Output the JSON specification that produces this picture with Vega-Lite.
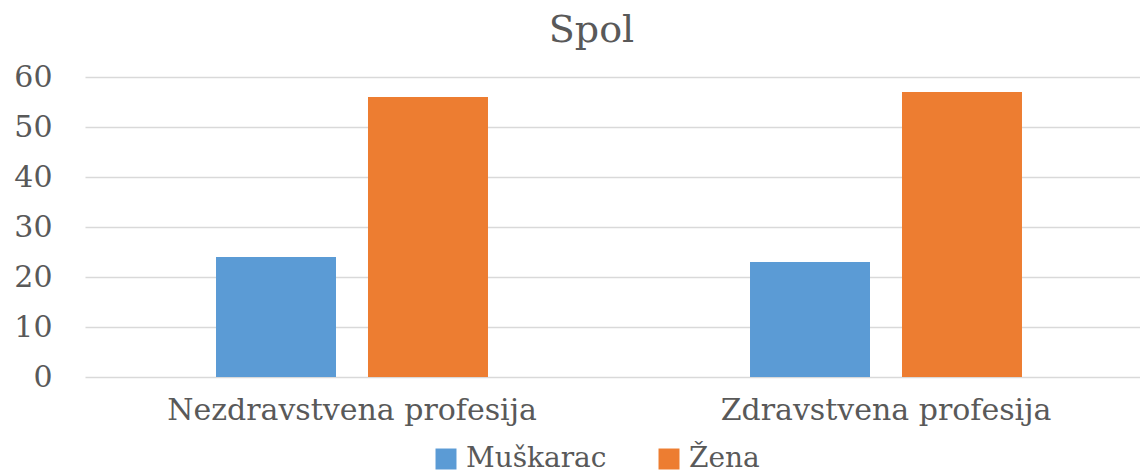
{
  "$schema": "https://vega.github.io/schema/vega-lite/v6.json",
  "autosize": {"type": "none"},
  "padding": {"left": 85, "top": 77, "right": 0, "bottom": 98},
  "width": 1055,
  "height": 300,
  "background": "white",
  "title": {
    "text": "Spol",
    "font": "DejaVu Serif",
    "fontSize": 38,
    "fontWeight": "normal",
    "color": "#595959",
    "anchor": "middle",
    "baseline": "bottom",
    "offset": 14,
    "dy": 40,
    "dx": -21
  },
  "data": {
    "values": [
      {"profesija": "Nezdravstvena profesija", "spol": "Muškarac", "value": 24},
      {"profesija": "Nezdravstvena profesija", "spol": "Žena", "value": 56},
      {"profesija": "Zdravstvena profesija", "spol": "Muškarac", "value": 23},
      {"profesija": "Zdravstvena profesija", "spol": "Žena", "value": 57}
    ]
  },
  "mark": {"type": "bar"},
  "encoding": {
    "x": {
      "field": "profesija",
      "type": "nominal",
      "sort": null,
      "scale": {"range": [0, 1068], "paddingInner": 0, "paddingOuter": 0},
      "axis": {
        "title": null,
        "labelAngle": 0,
        "ticks": false,
        "domain": false,
        "labelLimit": 0,
        "labelFont": "DejaVu Serif",
        "labelFontSize": 30,
        "labelColor": "#595959",
        "labelPadding": 18
      }
    },
    "xOffset": {
      "field": "spol",
      "type": "nominal",
      "sort": ["Muškarac", "Žena"],
      "scale": {"paddingInner": 0.2105, "paddingOuter": 0.862}
    },
    "y": {
      "field": "value",
      "type": "quantitative",
      "scale": {"domain": [0, 60], "nice": false},
      "axis": {
        "title": null,
        "values": [0, 10, 20, 30, 40, 50, 60],
        "ticks": false,
        "domain": false,
        "grid": true,
        "gridColor": "#d9d9d9",
        "gridWidth": 1.5,
        "labelFont": "DejaVu Serif",
        "labelFontSize": 30,
        "labelColor": "#595959",
        "labelPadding": 33
      }
    },
    "color": {
      "field": "spol",
      "type": "nominal",
      "sort": ["Muškarac", "Žena"],
      "scale": {"domain": ["Muškarac", "Žena"], "range": ["#5B9BD5", "#ED7D31"]},
      "legend": {
        "title": null,
        "orient": "none",
        "direction": "horizontal",
        "legendX": 347,
        "legendY": 368,
        "symbolType": "square",
        "symbolSize": 440,
        "symbolStrokeWidth": 0,
        "labelFont": "DejaVu Serif",
        "labelFontSize": 28,
        "labelColor": "#595959",
        "labelOffset": 6,
        "labelLimit": 0,
        "columnPadding": 48
      }
    }
  },
  "config": {"view": {"stroke": null}}
}
